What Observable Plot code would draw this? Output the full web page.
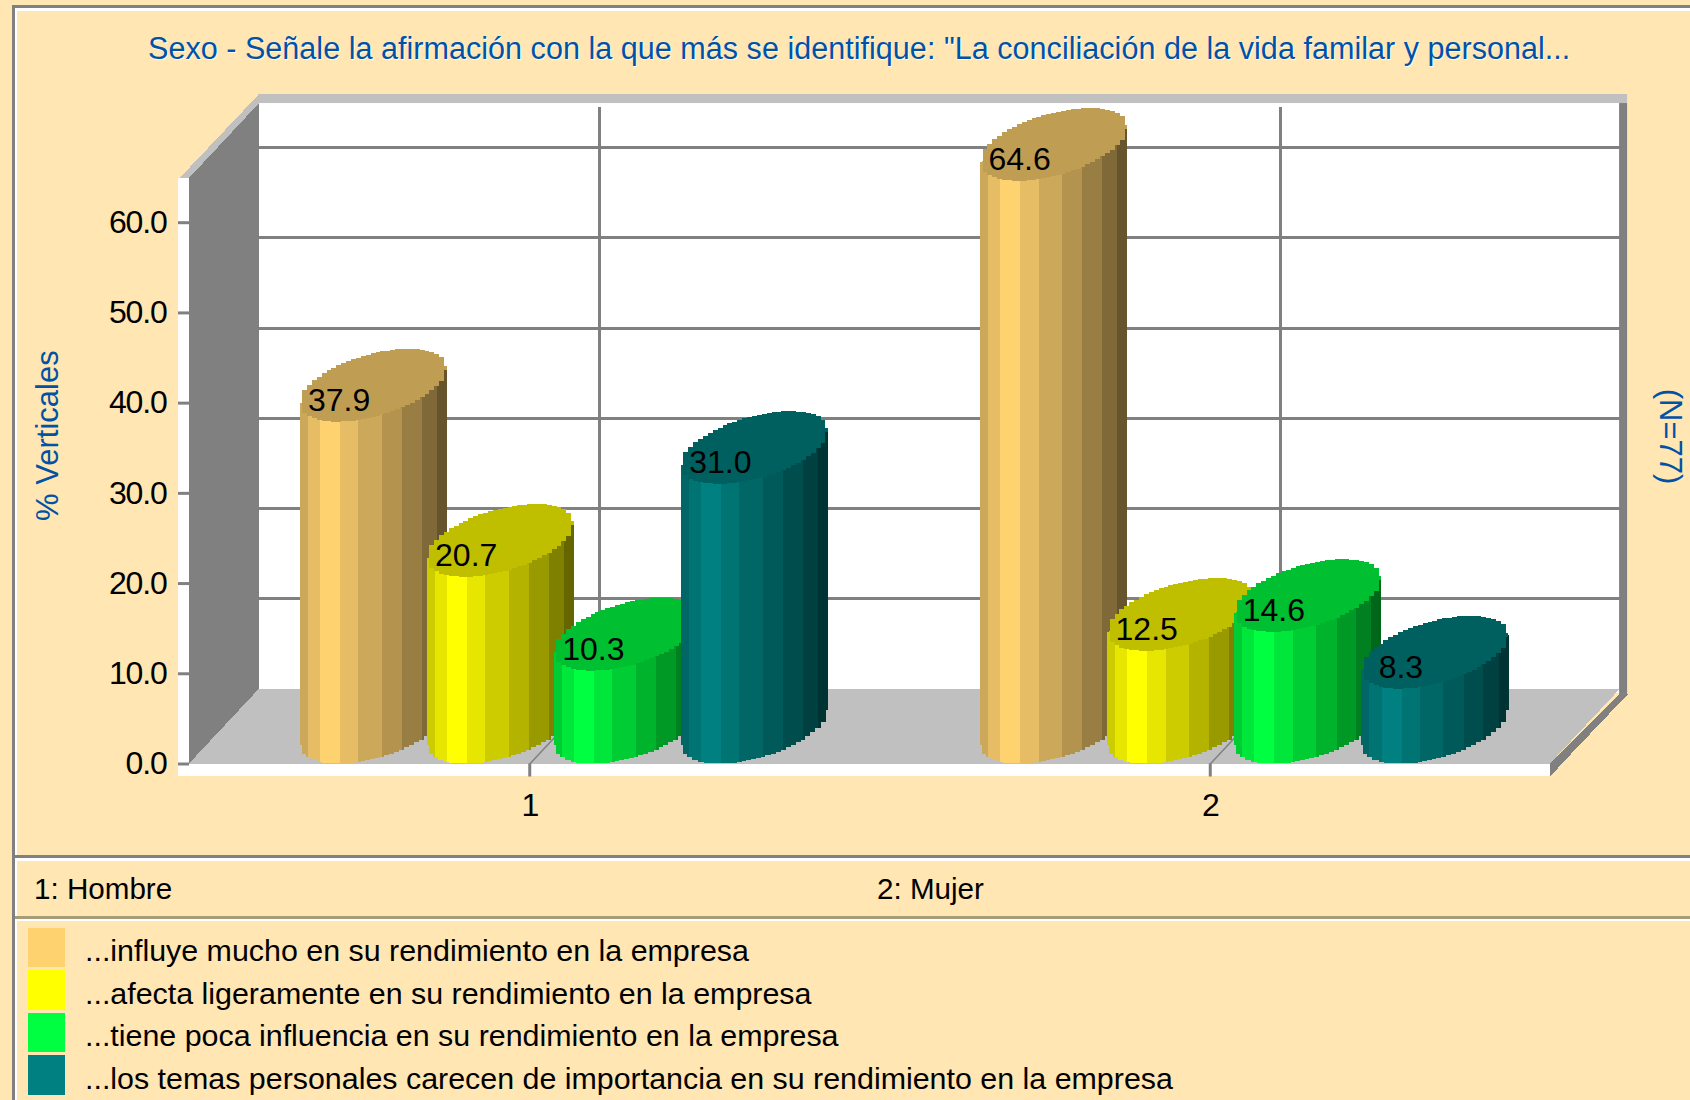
<!DOCTYPE html>
<html lang="es"><head><meta charset="utf-8">
<script src="https://cdn.jsdelivr.net/npm/d3@7"></script>
<script src="https://cdn.jsdelivr.net/npm/@observablehq/plot@0.6"></script>
<style>
html,body{margin:0;padding:0;background:#FFE6B3;width:1690px;height:1100px;overflow:hidden}
body{position:relative;font-family:"Liberation Sans",Arial,sans-serif;color:#000}
.abs{position:absolute;white-space:nowrap}
#frame{left:12px;top:5px;width:1678px;height:1095px;box-sizing:border-box;border-left:3px solid #808080;border-top:3px solid #808080}
#frameIn{left:15px;top:8px;width:1675px;height:1092px;box-sizing:border-box;border-left:2px solid #fff;border-top:3px solid #fff}
#title{left:148px;top:26px;font-size:30.6px;line-height:44px;color:#0052A6;text-shadow:1px 1px 0 #fff}
#chart{left:0;top:80px}
#chart svg{background:transparent;overflow:visible;display:block}
#chart [aria-label="y-axis tick label"],#chart [aria-label="x-axis tick label"],#chart [aria-label="value"]{letter-spacing:-1.2px}
#chart [aria-label="side"]{letter-spacing:1.2px}
.rule{left:15px;width:1675px}
.cat{font-size:29.6px;line-height:36px;top:871px}
.sw{left:28px;width:37px}
.lg{left:85px;font-size:30.4px;line-height:40px}
</style></head><body>
<div class="abs" id="frame"></div><div class="abs" id="frameIn"></div>
<div class="abs" id="title"></div>
<div class="abs" id="chart"></div>
<div class="abs rule" style="top:855px;height:3px;background:#808080"></div>
<div class="abs rule" style="top:858px;height:3px;background:#fff"></div>
<div class="abs rule" style="top:916px;height:3px;background:#A89C78"></div>
<div class="abs rule" style="top:919px;height:2px;background:#fff"></div>
<div id="bottom"></div>
<script>
const titleText = 'Sexo - Señale la afirmación con la que más se identifique: "La conciliación de la vida familar y personal...';
const yLabel = "% Verticales";
const nLabel = "(N=77)";
const groups = [1, 2];
const groupNames = ["1: Hombre", "2: Mujer"];
const seriesNames = [
  "...influye mucho en su rendimiento en la empresa",
  "...afecta ligeramente en su rendimiento en la empresa",
  "...tiene poca influencia en su rendimiento en la empresa",
  "...los temas personales carecen de importancia en su rendimiento en la empresa"
];
const seriesColors = ["#FFD270", "#FFFF00", "#00FF40", "#008080"];
const hombre = [37.9, 20.7, 10.3, 31.0];
const mujer = [64.6, 12.5, 14.6, 8.3];
const yTicks = [0, 10, 20, 30, 40, 50, 60];

// projection constants of the fake 3D box, in data units
const X0 = 0.5, X1 = 2.5, YMAX = 64.9;
const DX = 0.103, DV = 8.31;          // depth of the box
const EV = 8.05;                      // height of a cylinder's top ellipse
const STEP = 127 / 680;               // spacing of cylinders within a group
const A = Math.hypot(STEP / 2, DX / 2) + 1 / 680; // half-width of the silhouette
const PHI = Math.atan2(DX / 2, STEP / 2);
const EDGES = [0, .055, .137, .273, .398, .558, .695, .83, .932, 1];
const SHADE = [.8, .9, 1, .9, .8, .7, .6, .5, .4];
const TOP_SHADE = .75;
const PIX = 0.0072;                   // width of a "stair" of the low-res picture

const shade = (c, k) => { const r = d3.rgb(c); return d3.rgb(r.r * k, r.g * k, r.b * k).formatHex(); };
const clamp1 = v => Math.max(-1, Math.min(1, v));

function cylinder(groupValue, i, value) {
  const cx = groupValue + DX / 2 + (i - 1.5) * STEP - 0.5 / 680;
  const color = seriesColors[i];
  const lowerArc = (x, base) => base + EV / 2 + (EV / 2) * Math.sin(-Math.acos(clamp1((x - cx) / A)) + PHI);
  const upperArc = (x, base) => base + EV / 2 + (EV / 2) * Math.sin(Math.acos(clamp1((x - cx) / A)) + PHI);
  const body = [];
  SHADE.forEach((k, s) => {
    const a = cx - A + 2 * A * EDGES[s], b = cx - A + 2 * A * EDGES[s + 1];
    const n = Math.max(1, Math.round((b - a) / PIX));
    for (let j = 0; j <= n; j++) {
      const x = a + (b - a) * j / n;
      // body runs a little under the top ellipse so that no seam shows between them
      body.push({x, s, y1: lowerArc(x, 0), y2: Math.min(lowerArc(x, value) + 1.2, upperArc(x, value)), f: shade(color, k)});
    }
  });
  const top = d3.range(0, 2 * A / PIX + 1).map(j => {
    const x = Math.min(cx + A, cx - A + j * PIX);
    return {x, y1: lowerArc(x, value), y2: upperArc(x, value)};
  });
  return [
    Plot.areaY(body, {x: "x", y1: "y1", y2: "y2", z: "s", fill: "f", curve: "step", shapeRendering: "crispEdges"}),
    Plot.areaY(top, {x: "x", y1: "y1", y2: "y2", fill: shade(color, TOP_SHADE), curve: "step", shapeRendering: "crispEdges"})
  ];
}

const bars = [];
const labels = [];
groups.forEach((g, gi) => (gi ? mujer : hombre).forEach((v, i) => {
  bars.push(...cylinder(g, i, v));
  labels.push({x: g + (i - 1.5) * STEP, y: v, t: v.toFixed(1)});
}));

const GRID = "#808080", WALL = "#808080", FLOOR = "#C0C0C0";
const px = 1 / 680, pv = 1 / 9.02;
const tickFont = {fontSize: 32, fontFamily: "'Liberation Sans',sans-serif", fill: "#000"};

const plot = Plot.plot({
  width: 1690, height: 775,
  marginLeft: 189, marginRight: 140, marginTop: 98, marginBottom: 91.5,
  x: {domain: [X0, X1], axis: null},
  y: {domain: [0, YMAX], axis: null},
  style: {background: "transparent", overflow: "visible"},
  marks: [
    // white front strips
    Plot.rect([0], {x1: X0 - 11 * px, x2: X0 + 1 * px, y1: -12.5 * pv, y2: YMAX, fill: "#fff"}),
    Plot.rect([0], {x1: X0 - 11 * px, x2: X1 + 1 * px, y1: -12.5 * pv, y2: .5, fill: "#fff"}),
    // back wall (runs slightly under the floor so that no seam shows)
    Plot.rect([0], {x1: X0 + DX - 1 * px, x2: X1 + DX + 1 * px, y1: DV - .5, y2: YMAX + DV, fill: "#fff"}),
    // left wall
    Plot.areaY([{x: X0, a: 0, b: YMAX}, {x: X0 + DX, a: DV, b: YMAX + DV}], {x: "x", y1: "a", y2: "b", fill: WALL, shapeRendering: "crispEdges"}),
    // top edge: diagonal + horizontal
    Plot.areaY([{x: X0 - 9 * px, a: YMAX, b: YMAX}, {x: X0, a: YMAX, b: YMAX + 1.1}, {x: X0 + DX, a: YMAX + DV, b: YMAX + DV + 1}], {x: "x", y1: "a", y2: "b", fill: FLOOR, shapeRendering: "crispEdges"}),
    Plot.rect([0], {x1: X0 + DX - 1 * px, x2: X1 + DX + 7 * px, y1: YMAX + DV, y2: YMAX + DV + 1, fill: FLOOR}),
    // floor
    Plot.areaX([{y: 0, a: X0, b: X1}, {y: DV, a: X0 + DX, b: X1 + DX}], {y: "y", x1: "a", x2: "b", fill: FLOOR, shapeRendering: "crispEdges"}),
    // right wall + diagonal edge
    Plot.areaX([{y: -12.5 * pv, a: X1, b: X1 + 1 * px}, {y: 0, a: X1, b: X1 + 12 * px}, {y: DV - .6, a: X1 + DX - 1 * px, b: X1 + DX + 8 * px}], {y: "y", x1: "a", x2: "b", fill: WALL, shapeRendering: "crispEdges"}),
    Plot.rect([0], {x1: X1 + DX - 1 * px, x2: X1 + DX + 7 * px, y1: DV - .6, y2: YMAX + DV, fill: WALL}),
    // back grid
    Plot.ruleY(yTicks.filter(d => d > 0), {y: d => d + DV, x1: X0 + DX, x2: X1 + DX, stroke: GRID, strokeWidth: 3, shapeRendering: "crispEdges"}),
    Plot.ruleX(groups, {x: d => d + DX, y1: DV, y2: YMAX + DV - .4, stroke: GRID, strokeWidth: 3, shapeRendering: "crispEdges"}),
    // floor grid
    ...groups.map(g => Plot.line([[g, 0], [g + DX, DV]], {stroke: GRID, strokeWidth: 1.5})),
    // axes
    Plot.axisY({ticks: yTicks, tickFormat: d3.format(".1f"), tickSize: 11, tickPadding: 12, stroke: GRID, strokeWidth: 3, ...tickFont, label: null}),
    Plot.axisX({ticks: groups, tickFormat: d => d, tickSize: 13, tickPadding: 16, stroke: GRID, strokeWidth: 3, ...tickFont, label: null}),
    // cylinders
    ...bars,
    Plot.text(labels, {x: "x", y: "y", text: "t", dy: -21.5, ...tickFont, ariaLabel: "value"}),
    // rotated labels
    Plot.text([yLabel], {x: [X0 - 141 * px], y: [36.4], rotate: -90, fontSize: 31, fill: "#0052A6", fontFamily: "'Liberation Sans',sans-serif", ariaLabel: "side"}),
    Plot.text([nLabel], {x: [X0 + 1479 * px], y: [36.3], rotate: 90, fontSize: 31, fill: "#0052A6", fontFamily: "'Liberation Sans',sans-serif"})
  ]
});
document.getElementById("chart").appendChild(plot);

document.getElementById("title").textContent = titleText;
const bottom = document.getElementById("bottom");
const add = (cls, txt, css) => { const d = document.createElement("div"); d.className = "abs " + cls; d.textContent = txt; d.style.cssText = css; bottom.appendChild(d); };
groupNames.forEach((t, i) => add("cat", t, `left:${[34, 877][i]}px`));
const swY = [[928, 39], [970, 40], [1013, 39], [1055, 40]];
const lgY = [930, 973, 1015, 1058];
seriesNames.forEach((t, i) => {
  add("sw", "", `top:${swY[i][0]}px;height:${swY[i][1]}px;background:${seriesColors[i]}`);
  add("lg", t, `top:${lgY[i]}px`);
});
</script></body></html>
